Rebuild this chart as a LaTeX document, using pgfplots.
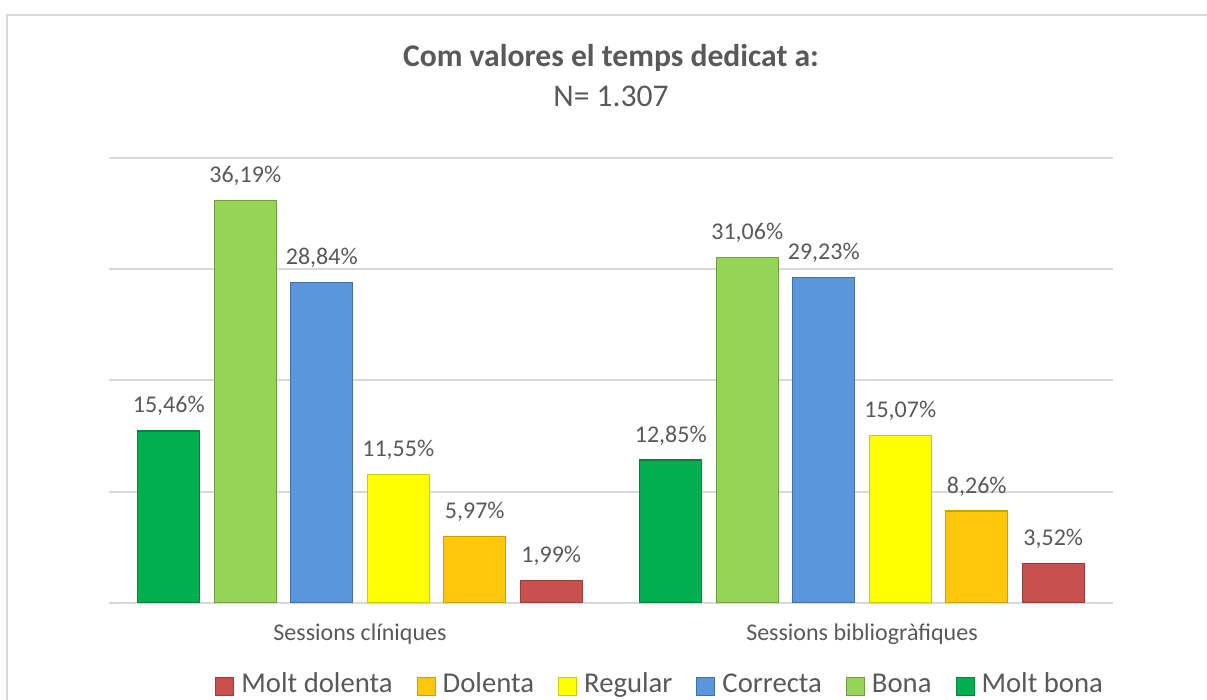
\documentclass[border=0pt]{standalone}
\usepackage{fontspec}
\setmainfont{Carlito}
\usepackage{pgfplots}
\pgfplotsset{compat=1.18}
\definecolor{txt}{HTML}{595959}
\definecolor{gridc}{HTML}{D9D9D9}
\definecolor{cMB}{HTML}{00B050}
\definecolor{cB}{HTML}{96D455}
\definecolor{cC}{HTML}{5A96DC}
\definecolor{cR}{HTML}{FFFF00}
\definecolor{cD}{HTML}{FFC80A}
\definecolor{cMD}{HTML}{C8504F}
\begin{document}
\begin{tikzpicture}
\useasboundingbox (0,0) rectangle (603.5pt,350pt);
\draw[gridc, line width=1pt] (3.5pt,-2pt) -- (3.5pt,342.5pt) -- (606pt,342.5pt);
\node[anchor=base, font=\fontsize{15.8}{19}\selectfont\bfseries, text=txt, inner sep=0pt] at (305.5pt,316.5pt) {Com valores el temps dedicat a:};
\node[anchor=base, font=\fontsize{15.8}{19}\selectfont, text=txt, inner sep=0pt] at (305.5pt,296.5pt) {N= 1.307};
\begin{axis}[
  at={(54.5pt,48.5pt)}, anchor=south west,
  scale only axis, width=502pt, height=222.5pt,
  xmin=-0.5, xmax=1.5, ymin=0, ymax=40,
  ybar=7.25pt, bar width=31pt,
  xtick={0,1}, xticklabels={Sessions clíniques, Sessions bibliogràfiques},
  ytick={0,10,20,30,40}, yticklabels={},
  ymajorgrids, grid style={gridc, line width=1pt},
  axis line style={draw=none}, major tick length=0pt,
  xticklabel style={anchor=base, yshift=-18.75pt, font=\fontsize{12}{14}\selectfont, text=txt, inner sep=0pt},
  nodes near coords={\pgfmathprintnumber[fixed,fixed zerofill,precision=2,use comma,assume math mode=true]{\pgfplotspointmeta}\%},
  every node near coord/.append style={anchor=base, yshift=9pt, font=\fontsize{12}{14}\selectfont, text=txt, inner sep=0pt},
  legend columns=6, reverse legend,
  legend style={at={(0.1056,-0.1865)}, anchor=west, draw=none, fill=none, inner sep=0pt,
    font=\fontsize{14.35}{17}\selectfont, text=txt,
    nodes={inner sep=0pt, text height=10pt, text depth=3pt},
    /tikz/every odd column/.append style={column sep=3.5pt},
    /tikz/every even column/.append style={column sep=12pt}},
  legend image code/.code={\draw[#1, line width=0.5pt] (0pt,-5pt) rectangle (9pt,4pt);},
]
\addplot[fill=cMB, draw=cMB!75!black, line width=0.6pt] coordinates {(0,15.46) (1,12.85)};
\addplot[fill=cB, draw=cB!75!black, line width=0.6pt] coordinates {(0,36.19) (1,31.06)};
\addplot[fill=cC, draw=cC!75!black, line width=0.6pt] coordinates {(0,28.84) (1,29.23)};
\addplot[fill=cR, draw=cR!80!black, line width=0.6pt] coordinates {(0,11.55) (1,15.07)};
\addplot[fill=cD, draw=cD!80!black, line width=0.6pt] coordinates {(0,5.97) (1,8.26)};
\addplot[fill=cMD, draw=cMD!75!black, line width=0.6pt] coordinates {(0,1.99) (1,3.52)};
\legend{Molt bona, Bona, Correcta, Regular, Dolenta, Molt dolenta}
\end{axis}
\end{tikzpicture}
\end{document}
